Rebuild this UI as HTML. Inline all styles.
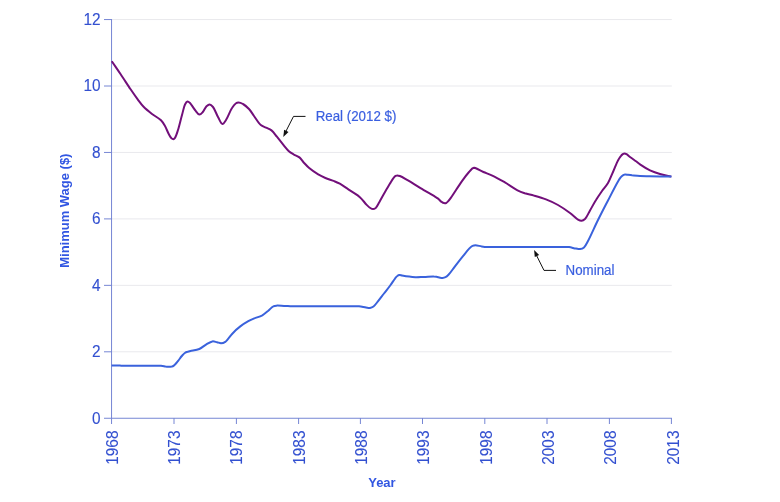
<!DOCTYPE html>
<html lang="en"><head><meta charset="utf-8"><title>Minimum Wage</title>
<style>
html,body{margin:0;padding:0;background:#fff;}
body{width:780px;height:502px;overflow:hidden;}
svg{display:block;}
text{font-family:"Liberation Sans",Arial,sans-serif;}
.tick{font-size:15.4px;fill:#3350d0;stroke:#3350d0;stroke-width:0.1px;}
.title{font-size:13px;font-weight:bold;fill:#3156e2;}
.ann{font-size:13.33px;fill:#3a5fe0;stroke:#3a5fe0;stroke-width:0.2px;}
</style></head><body>
<svg width="780" height="502" viewBox="0 0 780 502">
<rect width="780" height="502" fill="#fff"/>

<g stroke="#e9e9ed" stroke-width="1">
<line x1="112" y1="19.55" x2="671.8" y2="19.55"/>
<line x1="112" y1="86.00" x2="671.8" y2="86.00"/>
<line x1="112" y1="152.45" x2="671.8" y2="152.45"/>
<line x1="112" y1="218.90" x2="671.8" y2="218.90"/>
<line x1="112" y1="285.35" x2="671.8" y2="285.35"/>
<line x1="112" y1="351.80" x2="671.8" y2="351.80"/>
</g>
<g stroke="#7686d4" stroke-width="1">
<line x1="111.55" y1="19.05" x2="111.55" y2="424"/>
<line x1="104" y1="418.25" x2="671.90" y2="418.25"/>
<line x1="104" y1="19.55" x2="112" y2="19.55"/>
<line x1="104" y1="86.00" x2="112" y2="86.00"/>
<line x1="104" y1="152.45" x2="112" y2="152.45"/>
<line x1="104" y1="218.90" x2="112" y2="218.90"/>
<line x1="104" y1="285.35" x2="112" y2="285.35"/>
<line x1="104" y1="351.80" x2="112" y2="351.80"/>
<line x1="174.00" y1="418" x2="174.00" y2="424"/>
<line x1="236.40" y1="418" x2="236.40" y2="424"/>
<line x1="298.60" y1="418" x2="298.60" y2="424"/>
<line x1="360.40" y1="418" x2="360.40" y2="424"/>
<line x1="422.50" y1="418" x2="422.50" y2="424"/>
<line x1="484.80" y1="418" x2="484.80" y2="424"/>
<line x1="547.00" y1="418" x2="547.00" y2="424"/>
<line x1="609.40" y1="418" x2="609.40" y2="424"/>
<line x1="671.40" y1="418" x2="671.40" y2="424"/>
</g>
<g class="tick" text-anchor="end">
<text transform="translate(100.6,24.88) scale(1,1.045)">12</text>
<text transform="translate(100.6,91.40) scale(1,1.045)">10</text>
<text transform="translate(100.6,157.92) scale(1,1.045)">8</text>
<text transform="translate(100.6,224.44) scale(1,1.045)">6</text>
<text transform="translate(100.6,290.96) scale(1,1.045)">4</text>
<text transform="translate(100.6,357.48) scale(1,1.045)">2</text>
<text transform="translate(100.6,424.00) scale(1,1.045)">0</text>
</g>
<g class="tick">
<text transform="translate(117.60,464.8) rotate(-90) scale(1,1.045)">1968</text>
<text transform="translate(179.95,464.8) rotate(-90) scale(1,1.045)">1973</text>
<text transform="translate(242.30,464.8) rotate(-90) scale(1,1.045)">1978</text>
<text transform="translate(304.65,464.8) rotate(-90) scale(1,1.045)">1983</text>
<text transform="translate(367.00,464.8) rotate(-90) scale(1,1.045)">1988</text>
<text transform="translate(429.35,464.8) rotate(-90) scale(1,1.045)">1993</text>
<text transform="translate(491.70,464.8) rotate(-90) scale(1,1.045)">1998</text>
<text transform="translate(554.05,464.8) rotate(-90) scale(1,1.045)">2003</text>
<text transform="translate(616.40,464.8) rotate(-90) scale(1,1.045)">2008</text>
<text transform="translate(678.75,464.8) rotate(-90) scale(1,1.045)">2013</text>
</g>
<text class="title" transform="translate(69.0,267.8) rotate(-90) scale(1,1.04)">Minimum Wage ($)</text>
<text class="title" transform="translate(368.2,486.8) scale(1,1.04)">Year</text>
<path d="M111.8,61.2C114.7,65.5 117.5,69.5 120.5,74.0C123.8,78.9 127.5,84.7 130.6,89.3C133.1,93.0 135.4,96.3 137.7,99.4C139.7,102.1 141.3,104.5 143.6,106.8C146.1,109.3 149.1,111.7 152.0,114.0C154.9,116.2 158.7,118.0 161.0,120.3C162.8,122.1 163.8,123.9 165.0,126.0C166.4,128.5 167.7,132.3 169.0,134.5C169.9,136.1 170.6,137.5 171.5,138.3C172.1,138.8 172.6,139.2 173.2,139.2C173.8,139.1 174.4,138.6 175.0,137.8C176.1,136.3 177.0,133.1 178.0,130.0C179.4,125.8 180.7,119.6 182.0,115.0C183.1,111.2 183.8,106.8 185.0,104.5C185.7,103.1 186.5,101.8 187.4,101.6C188.2,101.4 189.1,102.2 190.0,103.0C191.5,104.4 193.3,108.0 195.0,110.0C196.5,111.8 198.0,114.5 199.4,114.6C200.6,114.7 201.9,113.0 203.0,111.8C204.3,110.3 205.2,107.5 206.5,106.2C207.5,105.3 208.6,104.3 209.6,104.4C210.7,104.5 211.9,105.7 213.0,107.0C214.8,109.1 216.3,114.0 218.0,117.0C219.5,119.6 220.9,123.9 222.4,124.0C223.6,124.1 224.8,121.8 226.0,120.0C227.9,117.2 230.0,111.0 232.0,108.0C233.3,105.9 234.7,104.1 236.0,103.2C236.8,102.6 237.5,102.4 238.5,102.4C239.8,102.4 241.5,103.1 243.0,104.0C245.0,105.1 247.2,107.1 249.0,109.0C250.9,111.0 252.2,113.5 254.0,116.0C256.1,118.8 258.4,123.0 260.8,125.0C262.5,126.4 264.2,126.7 266.0,127.6C267.8,128.5 269.8,129.1 271.5,130.4C273.5,132.0 275.1,134.5 276.9,136.7C278.9,139.2 281.2,142.2 283.2,144.7C285.0,146.9 286.7,149.3 288.6,151.0C290.3,152.5 292.2,153.5 294.0,154.6C295.8,155.6 297.8,156.1 299.4,157.4C301.1,158.8 302.3,161.0 303.9,162.7C305.6,164.5 307.1,166.3 309.2,168.1C311.7,170.2 315.3,172.7 318.2,174.4C320.7,175.9 322.8,176.9 325.4,178.0C328.2,179.2 331.8,180.1 334.4,181.2C336.5,182.0 337.8,182.6 339.8,183.7C342.4,185.2 345.7,187.7 348.7,189.6C351.7,191.6 355.4,193.7 357.7,195.4C359.2,196.6 360.0,197.3 361.3,198.6C363.0,200.3 365.0,203.2 366.7,204.9C368.0,206.2 369.1,207.3 370.3,208.0C371.2,208.6 372.1,209.1 373.0,209.1C373.9,209.1 374.8,208.7 375.7,208.0C377.0,206.9 378.0,204.4 379.3,202.2C381.0,199.3 383.1,195.2 385.0,192.0C386.7,189.1 388.4,186.2 390.0,183.6C391.3,181.4 392.7,178.9 393.8,177.6C394.5,176.8 395.0,176.3 395.6,175.9C396.1,175.6 396.4,175.4 397.0,175.4C397.8,175.3 398.7,175.6 399.9,176.0C402.0,176.8 405.0,178.7 408.0,180.4C411.7,182.6 416.2,185.5 420.5,188.1C425.1,190.9 431.8,194.7 434.9,196.6C436.4,197.5 437.1,197.8 438.1,198.6C439.2,199.5 440.3,200.9 441.2,201.6C441.9,202.1 442.4,202.5 443.0,202.8C443.6,203.0 444.2,203.2 444.8,203.2C445.3,203.2 445.9,203.1 446.4,202.8C446.9,202.5 447.3,202.1 447.8,201.6C448.7,200.7 449.7,199.4 451.0,197.6C453.6,194.0 458.5,185.9 461.8,181.3C464.4,177.7 467.1,174.2 469.0,172.0C470.1,170.7 471.0,169.6 471.8,168.9C472.3,168.5 472.7,168.2 473.2,168.0C473.6,167.8 474.0,167.8 474.4,167.8C475.0,167.9 475.5,168.1 476.4,168.5C478.0,169.2 480.9,170.9 483.4,172.0C486.2,173.2 489.1,174.1 492.3,175.6C496.2,177.4 500.7,180.0 504.9,182.4C509.1,184.9 513.8,188.4 517.5,190.3C520.2,191.7 522.1,192.4 524.7,193.3C527.6,194.2 530.7,194.7 534.0,195.6C537.8,196.7 542.0,197.9 546.0,199.4C550.1,201.0 554.1,202.8 558.0,205.0C562.1,207.3 566.5,210.4 570.0,213.0C573.0,215.2 575.8,218.4 578.0,219.6C579.4,220.4 580.4,220.9 581.6,220.8C582.8,220.7 583.9,220.0 585.0,219.0C586.8,217.3 588.3,213.5 590.0,210.5C591.9,207.2 593.9,203.3 596.0,200.0C597.9,196.8 600.0,193.9 602.0,191.0C604.0,188.2 606.2,186.0 608.0,183.0C609.9,179.7 611.3,175.7 613.0,172.0C614.7,168.2 616.4,163.4 618.0,160.5C619.0,158.6 620.1,157.0 621.0,155.9C621.6,155.1 622.2,154.5 622.8,154.1C623.3,153.8 623.9,153.5 624.5,153.5C625.1,153.5 625.8,153.8 626.5,154.2C627.5,154.8 628.7,156.0 630.0,157.0C631.7,158.3 634.2,160.0 636.0,161.3C637.5,162.4 638.3,163.3 640.0,164.4C642.5,166.1 646.6,168.8 650.0,170.4C653.3,171.9 656.5,173.0 660.0,174.0C663.6,175.1 667.6,175.7 671.4,176.6" fill="none" stroke="#720f7a" stroke-width="2" stroke-linejoin="round" stroke-linecap="butt"/>
<path d="M111.6,365.4C114.4,365.5 117.2,365.5 120.0,365.6C122.7,365.7 124.8,365.8 128.0,365.8C132.6,365.9 139.4,365.8 145.0,365.8C150.4,365.8 157.3,365.5 161.0,365.8C163.0,366.0 164.2,366.3 165.6,366.5C166.8,366.6 167.8,366.8 168.8,366.8C169.8,366.8 170.9,366.7 171.8,366.5C172.6,366.3 173.1,366.1 173.8,365.6C174.8,364.9 175.9,363.5 176.8,362.5C177.6,361.6 178.1,360.9 178.8,360.0C179.7,358.8 180.8,357.2 181.8,356.0C182.8,354.9 183.7,353.7 184.8,353.0C185.7,352.4 186.6,352.1 187.6,351.8C188.5,351.5 189.3,351.3 190.5,351.0C192.6,350.5 196.7,350.1 199.3,349.0C201.8,347.9 203.8,345.9 206.0,344.6C208.1,343.4 210.4,341.7 212.4,341.4C214.0,341.2 215.5,341.9 217.0,342.2C218.4,342.5 219.6,343.2 221.0,343.2C222.4,343.2 224.1,342.6 225.3,341.8C226.5,341.0 227.2,339.8 228.3,338.6C229.6,337.2 230.7,335.4 232.3,333.7C234.4,331.4 237.5,328.5 240.3,326.4C242.9,324.4 245.8,322.6 248.3,321.2C250.4,320.0 252.1,319.3 254.3,318.4C256.8,317.4 259.9,316.6 262.3,315.3C264.5,314.0 266.4,312.2 268.3,310.7C270.1,309.2 271.6,307.1 273.3,306.3C274.5,305.7 275.6,305.7 277.0,305.6C279.0,305.5 281.6,305.8 284.0,305.9C286.6,306.0 289.3,306.2 292.0,306.3C294.7,306.4 296.7,306.3 300.0,306.3C305.2,306.3 313.3,306.3 320.0,306.3C326.7,306.3 334.2,306.3 340.0,306.3C344.5,306.3 348.5,306.3 352.0,306.3C354.6,306.3 356.7,306.1 359.0,306.3C361.3,306.5 364.0,307.3 366.0,307.6C367.5,307.8 368.7,308.2 370.0,308.0C371.2,307.8 372.3,307.4 373.5,306.5C375.2,305.3 376.8,302.7 378.5,300.6C380.3,298.4 382.1,295.9 384.0,293.5C386.0,290.9 388.3,288.1 390.2,285.5C392.0,283.1 393.8,280.0 395.2,278.3C396.0,277.3 396.5,276.5 397.3,276.0C398.0,275.5 398.6,275.2 399.4,275.1C400.2,275.0 400.9,275.3 402.0,275.5C403.8,275.8 406.9,276.3 409.2,276.6C411.3,276.9 413.2,277.1 415.4,277.2C418.0,277.3 421.0,277.0 424.0,276.9C427.2,276.8 431.6,276.4 433.8,276.5C435.0,276.5 435.5,276.6 436.5,276.8C437.6,277.0 438.9,277.5 440.0,277.7C440.9,277.9 441.6,278.1 442.5,278.0C443.5,277.9 444.5,277.7 445.5,277.2C446.6,276.7 447.4,275.9 448.5,274.8C450.3,273.0 452.4,269.7 454.6,266.8C457.2,263.4 460.5,259.1 463.2,255.8C465.4,253.1 467.6,250.2 469.4,248.4C470.5,247.3 471.4,246.4 472.5,245.9C473.5,245.5 474.3,245.3 475.5,245.3C477.2,245.3 479.6,246.1 481.7,246.4C483.7,246.7 485.6,246.9 487.8,247.0C490.3,247.1 492.5,247.0 496.0,247.0C501.9,247.0 511.9,247.0 520.0,247.0C528.2,247.0 537.5,247.0 545.0,247.0C551.2,247.0 557.6,247.0 562.0,247.0C564.8,247.0 566.7,246.8 569.0,247.1C571.3,247.4 574.0,248.3 576.0,248.6C577.5,248.8 578.7,249.2 580.0,249.0C581.4,248.8 582.8,248.4 584.0,247.4C585.6,246.1 586.5,243.8 588.0,241.0C590.7,236.1 594.6,226.8 598.0,220.0C601.3,213.4 604.6,206.9 608.0,200.5C611.3,194.1 615.7,185.4 618.0,181.5C619.1,179.7 619.7,178.6 620.5,177.6C621.2,176.8 621.7,176.1 622.5,175.6C623.2,175.1 624.1,174.7 625.0,174.6C625.9,174.5 626.9,174.7 628.0,174.8C629.2,174.9 630.4,175.1 632.0,175.3C634.2,175.5 637.2,175.8 640.0,176.0C643.1,176.2 646.7,176.2 650.0,176.3C653.3,176.4 656.6,176.4 660.0,176.4C663.7,176.4 667.6,176.4 671.4,176.4" fill="none" stroke="#3a62dc" stroke-width="2" stroke-linejoin="round" stroke-linecap="butt"/>
<text class="ann" transform="translate(315.7,121.4) scale(1,1.04)">Real (2012 $)</text>
<text class="ann" transform="translate(565.6,275.3) scale(1,1.04)">Nominal</text>
<g stroke="#111" stroke-width="1" fill="none"><polyline points="305.5,116.4 293.5,116.4 285.3,132.5"/><polyline points="556,270.4 544,270.4 535.8,254"/></g>
<polygon points="283.3,137 284.1,129.7 288.5,131.9" fill="#111"/>
<polygon points="534.1,250.1 534.8,257.1 539.1,254.9" fill="#111"/>
</svg></body></html>
